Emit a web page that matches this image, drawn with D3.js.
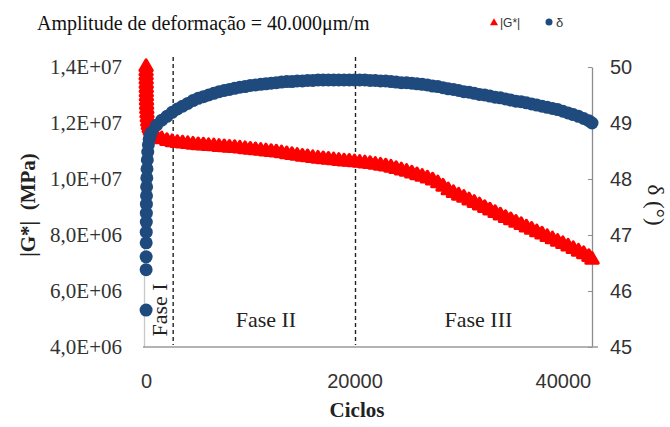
<!DOCTYPE html>
<html>
<head>
<meta charset="utf-8">
<script src="https://cdn.jsdelivr.net/npm/d3@7"></script>
<style>
  body { margin: 0; background: #fff; }
  svg { display: block; }
</style>
</head>
<body>
<script>
// cycles (x values)
var ciclos = [0, 3, 6, 10, 15, 20, 25, 30, 40, 50, 70, 90, 120, 160, 220, 300, 400,
  500, 1000, 1500, 2000, 2500, 3000, 3500, 4000, 4500, 5000, 5500, 6000, 6500, 7000, 7500, 8000, 8500, 9000, 9500, 10000,
  10500, 11000, 11500, 12000, 12500, 13000, 13500, 14000, 14500, 15000, 15500, 16000, 16500, 17000, 17500, 18000, 18500, 19000, 19500, 20000,
  20500, 21000, 21500, 22000, 22500, 23000, 23500, 24000, 24500, 25000, 25500, 26000, 26500, 27000, 27500, 28000, 28500, 29000, 29500, 30000,
  30500, 31000, 31500, 32000, 32500, 33000, 33500, 34000, 34500, 35000, 35500, 36000, 36500, 37000, 37500, 38000, 38500, 39000, 39500, 40000,
  40500, 41000, 41500, 42000, 42500, 42800];

// |G*| in units of 1E+06
var gModulo = [14.0, 13.85, 13.7, 13.55, 13.4, 13.25, 13.1, 12.95, 12.8, 12.65, 12.5, 12.35, 12.2, 12.05, 11.93, 11.82, 11.74,
  11.68, 11.50, 11.42, 11.36, 11.32, 11.29, 11.27, 11.25, 11.23, 11.21, 11.20, 11.18, 11.17, 11.15, 11.14, 11.12, 11.11, 11.09, 11.07, 11.05,
  11.03, 11.01, 10.99, 10.97, 10.95, 10.92, 10.89, 10.86, 10.83, 10.80, 10.78, 10.75, 10.73, 10.71, 10.69, 10.67, 10.65, 10.63, 10.62, 10.60,
  10.58, 10.56, 10.54, 10.51, 10.48, 10.45, 10.41, 10.36, 10.31, 10.26, 10.20, 10.14, 10.08, 10.02, 9.95, 9.85, 9.73, 9.60, 9.50, 9.41,
  9.33, 9.24, 9.15, 9.06, 8.97, 8.88, 8.79, 8.70, 8.61, 8.53, 8.44, 8.36, 8.27, 8.19, 8.10, 8.02, 7.93, 7.85, 7.76, 7.68,
  7.59, 7.50, 7.41, 7.32, 7.22, 7.12];

// phase angle delta (degrees)
var delta = [45.66, 46.38, 46.61, 46.86, 47.05, 47.23, 47.39, 47.55, 47.70, 47.86, 48.02, 48.18, 48.34, 48.48, 48.61, 48.71, 48.78,
  48.83, 48.96, 49.05, 49.12, 49.19, 49.25, 49.30, 49.35, 49.40, 49.44, 49.47, 49.50, 49.53, 49.56, 49.58, 49.60, 49.62, 49.64, 49.65, 49.67,
  49.68, 49.69, 49.70, 49.71, 49.72, 49.73, 49.74, 49.74, 49.75, 49.75, 49.76, 49.76, 49.77, 49.77, 49.77, 49.77, 49.77, 49.77, 49.77, 49.77,
  49.77, 49.77, 49.76, 49.76, 49.75, 49.75, 49.74, 49.73, 49.72, 49.72, 49.71, 49.70, 49.69, 49.68, 49.66, 49.65, 49.63, 49.61, 49.60, 49.58,
  49.56, 49.55, 49.53, 49.51, 49.50, 49.48, 49.46, 49.45, 49.43, 49.41, 49.39, 49.38, 49.36, 49.34, 49.32, 49.30, 49.28, 49.26, 49.24, 49.21,
  49.18, 49.15, 49.12, 49.08, 49.04, 49.00];

var xTicks = [0, 20000, 40000];
var gTicks = [4, 6, 8, 10, 12, 14];
var deltaTicks = [45, 46, 47, 48, 49, 50];
var faseLimites = [2600, 20100];
var fases = [
  {nome: "Fase I", x: 1300, vertical: true},
  {nome: "Fase II", x: 11500},
  {nome: "Fase III", x: 31900}
];

var width = 670, height = 427;
var plotL = 144, plotR = 592, plotT = 67, plotB = 347;

var svg = d3.select("body").append("svg")
    .attr("width", width)
    .attr("height", height);

var x = d3.scaleLinear().domain([-200, 42800]).range([plotL, plotR]);
var yG = d3.scaleLinear().domain([4, 14]).range([plotB, plotT]);
var yD = d3.scaleLinear().domain([45, 50]).range([plotB, plotT]);

var serif = "'Liberation Serif', 'Times New Roman', serif";
var sans = "'Liberation Sans', Arial, sans-serif";
var azul = "#1f4a7e", vermelho = "#ff0000";

// format 1,4E+07 style
function sci(v){
    var parts = (v * 1e6).toExponential(1).split("e");
    var e = parts[1];
    return parts[0].replace(".", ",") + "E" + e[0] + e.slice(1).padStart(2, "0");
}

// left axis
var axL = svg.append("g")
    .attr("transform", "translate(" + plotL + ",0)")
    .call(d3.axisLeft(yG).tickValues(gTicks).tickSize(0).tickPadding(22).tickFormat(sci));
axL.select(".domain").attr("stroke", "#c8c8c8").attr("stroke-width", 1.3);
axL.selectAll("text").attr("font-family", serif).attr("font-size", 21).attr("fill", "#333");

// right axis
var axR = svg.append("g")
    .attr("transform", "translate(" + plotR + ",0)")
    .call(d3.axisRight(yD).tickValues(deltaTicks).tickSizeInner(-4).tickSizeOuter(0).tickPadding(18)
        .tickFormat(d3.format("d")));
axR.select(".domain").attr("stroke", "#8c8c8c").attr("stroke-width", 1.3);
axR.selectAll("line").attr("stroke", "#8c8c8c");
axR.selectAll("text").attr("font-family", sans).attr("font-size", 20).attr("fill", "#333");

// bottom axis
var axB = svg.append("g")
    .attr("transform", "translate(0," + plotB + ")")
    .call(d3.axisBottom(x).tickValues(xTicks).tickSize(0).tickPadding(27).tickFormat(d3.format("d")));
axB.select(".domain").attr("d", "M" + (plotL - 1) + ",0H" + (plotR + 6))
    .attr("stroke", "#9a9a9a").attr("stroke-width", 1.3);
axB.selectAll("text").attr("font-family", sans).attr("font-size", 20).attr("fill", "#333");

// phase boundaries
svg.selectAll(".limite")
    .data(faseLimites)
    .enter()
    .append("line")
    .attr("class", "limite")
    .attr("x1", function(d){ return x(d); })
    .attr("x2", function(d){ return x(d); })
    .attr("y1", 57)
    .attr("y2", plotB - 2)
    .attr("stroke", "#222")
    .attr("stroke-width", 1.4)
    .attr("stroke-dasharray", "4,3");

// phase labels
fases.forEach(function(f){
    var t = svg.append("text")
        .attr("font-family", serif)
        .attr("font-size", 22)
        .attr("fill", "#222")
        .attr("text-anchor", "middle")
        .text(f.nome);
    if (f.vertical) {
        t.attr("transform", "translate(167,310) rotate(-90)");
    } else {
        t.attr("x", x(f.x)).attr("y", 327);
    }
});

var pontos = ciclos.map(function(c, i){ return {c: c, g: gModulo[i], d: delta[i]}; });

// |G*| triangles
var tri = d3.symbol().type(d3.symbolTriangle).size(64);
svg.append("g").selectAll("path")
    .data(pontos)
    .enter()
    .append("path")
    .attr("d", tri)
    .attr("transform", function(d){ return "translate(" + x(d.c) + "," + yG(d.g) + ")"; })
    .attr("fill", vermelho)
    .attr("stroke", vermelho)
    .attr("stroke-width", 3.2)
    .attr("stroke-linejoin", "round");

// delta circles
svg.append("g").selectAll("circle")
    .data(pontos)
    .enter()
    .append("circle")
    .attr("cx", function(d){ return x(d.c); })
    .attr("cy", function(d){ return yD(d.d); })
    .attr("r", 6.5)
    .attr("fill", azul);

// title
svg.append("text")
    .attr("x", 37)
    .attr("y", 30)
    .attr("font-family", serif)
    .attr("font-size", 20)
    .attr("fill", "#111")
    .text("Amplitude de deformação = 40.000μm/m");

// legend
svg.append("path")
    .attr("d", d3.symbol().type(d3.symbolTriangle).size(28))
    .attr("transform", "translate(494,23)")
    .attr("fill", vermelho);
svg.append("text")
    .attr("x", 500).attr("y", 27)
    .attr("font-family", sans).attr("font-size", 12).attr("fill", "#333")
    .text("|G*|");
svg.append("circle")
    .attr("cx", 549).attr("cy", 22).attr("r", 3.5)
    .attr("fill", azul);
svg.append("text")
    .attr("x", 556).attr("y", 27)
    .attr("font-family", sans).attr("font-size", 13).attr("fill", "#333")
    .text("δ");

// axis titles
svg.append("text")
    .attr("transform", "translate(35,205) rotate(-90)")
    .attr("text-anchor", "middle")
    .attr("font-family", serif)
    .attr("font-weight", "bold")
    .attr("font-size", 21)
    .attr("fill", "#222")
    .attr("xml:space", "preserve")
    .text("|G*|  (MPa)");

svg.append("text")
    .attr("transform", "translate(648,205) rotate(90)")
    .attr("text-anchor", "middle")
    .attr("font-family", serif)
    .attr("font-size", 23)
    .attr("fill", "#222")
    .text("δ (°)");

svg.append("text")
    .attr("x", 357)
    .attr("y", 417)
    .attr("text-anchor", "middle")
    .attr("font-family", serif)
    .attr("font-weight", "bold")
    .attr("font-size", 21)
    .attr("fill", "#222")
    .text("Ciclos");
</script>
</body>
</html>
